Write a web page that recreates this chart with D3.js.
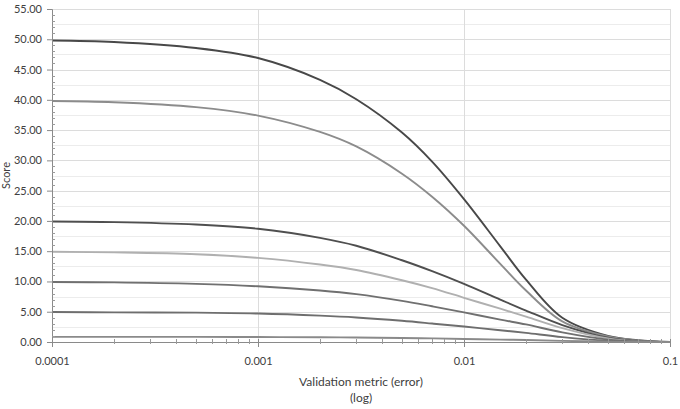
<!DOCTYPE html>
<html>
<head>
<meta charset="utf-8">
<script src="https://cdnjs.cloudflare.com/ajax/libs/d3/7.8.5/d3.min.js"></script>
<style>
    body { margin: 0; background: #fff; }
    text { font-family: Lato, "Open Sans", sans-serif; fill: #404040; }
</style>
</head>
<body>
<div id="chart"></div>
<script>
// x positions (validation metric, log scale)
var metric = [0.0001, 0.0002, 0.0005, 0.001, 0.002, 0.003, 0.005, 0.007, 0.01, 0.015, 0.02, 0.03, 0.05, 0.07, 0.1];

// score curves (top to bottom)
var score50 = [49.8, 49.55, 48.55, 46.9, 43.3, 40.1, 34.6, 29.8, 23.6, 15.8, 10.3, 4.0, 1.0, 0.3, 0];
var score40 = [39.8, 39.6, 38.8, 37.4, 34.7, 32.3, 27.8, 24.0, 19.2, 12.9, 8.5, 3.4, 0.9, 0.25, 0];
var score20 = [19.9, 19.8, 19.4, 18.7, 17.2, 15.9, 13.5, 11.7, 9.6, 7.0, 5.2, 2.8, 0.7, 0.15, 0];
var score15 = [14.9, 14.8, 14.5, 13.9, 12.8, 11.9, 10.2, 8.9, 7.3, 5.5, 4.2, 2.3, 0.6, 0.1, 0];
var score10 = [9.9, 9.85, 9.6, 9.2, 8.5, 7.9, 6.8, 5.9, 4.9, 3.7, 2.9, 1.6, 0.4, 0.08, 0];
var score5  = [4.95, 4.9, 4.85, 4.7, 4.35, 4.05, 3.5, 3.05, 2.55, 1.95, 1.5, 0.8, 0.2, 0.05, 0];
var score1  = [0.85, 0.85, 0.84, 0.82, 0.78, 0.74, 0.66, 0.6, 0.5, 0.4, 0.32, 0.18, 0.05, 0.01, 0];

var series = [score50, score40, score20, score15, score10, score5, score1];
var seriesColours = ["#484848", "#8c8c8c", "#4f4f4f", "#b0b0b0", "#707070", "#6e6e6e", "#8a8a8a"];

// axis ticks
var xTicks = [0.0001, 0.001, 0.01, 0.1];
var xTickLabels = ["0.0001", "0.001", "0.01", "0.1"];
var yTicks = [0, 5, 10, 15, 20, 25, 30, 35, 40, 45, 50, 55];

var width = 680, height = 409;
var margin = {top: 9, right: 10, bottom: 67, left: 52};
var inner_width = width - margin.left - margin.right;
var inner_height = height - margin.top - margin.bottom;

var svg = d3.select("#chart").append("svg")
    .attr("width", width)
    .attr("height", height);

var g = svg.append("g")
    .attr("transform", "translate(" + margin.left + "," + margin.top + ")");

var x_scale = d3.scaleLog()
    .domain([0.0001, 0.1])
    .range([0, inner_width]);

var y_scale = d3.scaleLinear()
    .domain([0, 55])
    .range([inner_height, 0]);

//Minor horizontal gridlines (every 2.5)
var minorY = d3.range(2.5, 55, 5);
g.append("g").selectAll("line").data(minorY).enter().append("line")
    .attr("x1", 0).attr("x2", inner_width)
    .attr("y1", function(d) {return Math.round(y_scale(d)) + 0.5;})
    .attr("y2", function(d) {return Math.round(y_scale(d)) + 0.5;})
    .attr("stroke", "#ececec");

//Major horizontal gridlines
g.append("g").selectAll("line").data(yTicks.slice(1)).enter().append("line")
    .attr("x1", 0).attr("x2", inner_width)
    .attr("y1", function(d) {return Math.round(y_scale(d)) + 0.5;})
    .attr("y2", function(d) {return Math.round(y_scale(d)) + 0.5;})
    .attr("stroke", "#dcdcdc");

//Vertical gridlines at decades
g.append("g").selectAll("line").data(xTicks.slice(1)).enter().append("line")
    .attr("x1", function(d) {return Math.round(x_scale(d)) + 0.5;})
    .attr("x2", function(d) {return Math.round(x_scale(d)) + 0.5;})
    .attr("y1", 0).attr("y2", inner_height)
    .attr("stroke", "#dcdcdc");

//Curves
var line = d3.line()
    .x(function(d) {return x_scale(d[0]);})
    .y(function(d) {return y_scale(d[1]);})
    .curve(d3.curveCatmullRom.alpha(0.5));

series.forEach(function(s, i) {
    g.append("path")
        .attr("d", line(d3.zip(metric, s)))
        .attr("fill", "none")
        .attr("stroke", seriesColours[i])
        .attr("stroke-width", 1.9);
});

//Y axis
var y_axis = d3.axisLeft(y_scale)
    .tickValues(yTicks)
    .tickSize(5)
    .tickPadding(5)
    .tickFormat(d3.format(".2f"));

var yg = g.append("g").call(y_axis);
yg.select(".domain").attr("stroke", "#8a8a8a");
yg.selectAll(".tick line").attr("stroke", "#8a8a8a");
yg.selectAll("text").style("font-size", "11px").attr("fill", "#404040");

// y minor ticks every 1
var minorYTicks = d3.range(1, 55).filter(function(d) {return d % 5 !== 0;});
yg.selectAll(".minor").data(minorYTicks).enter().append("line")
    .attr("class", "minor")
    .attr("x1", 0).attr("x2", 3)
    .attr("y1", function(d) {return Math.round(y_scale(d)) + 0.5;})
    .attr("y2", function(d) {return Math.round(y_scale(d)) + 0.5;})
    .attr("stroke", "#9a9a9a");

//X axis
var x_axis = d3.axisBottom(x_scale)
    .tickValues(xTicks)
    .tickSize(5)
    .tickPadding(10)
    .tickFormat(function(d, i) {return xTickLabels[i];});

var xg = g.append("g")
    .attr("transform", "translate(0," + inner_height + ")")
    .call(x_axis);
xg.select(".domain").attr("stroke", "#8a8a8a");
xg.selectAll(".tick line").attr("stroke", "#8a8a8a").attr("y1", -3);
xg.selectAll("text").style("font-size", "11px").attr("fill", "#404040");

// x minor ticks 2..9 within each decade
var minorXTicks = [];
[0.0001, 0.001, 0.01].forEach(function(base) {
    for (var k = 2; k <= 9; k++) minorXTicks.push(base * k);
});
xg.selectAll(".minor").data(minorXTicks).enter().append("line")
    .attr("class", "minor")
    .attr("x1", function(d) {return Math.round(x_scale(d)) + 0.5;})
    .attr("x2", function(d) {return Math.round(x_scale(d)) + 0.5;})
    .attr("y1", -3).attr("y2", 2)
    .attr("stroke", "#9a9a9a");

//Axis titles
svg.append("text")
    .attr("transform", "translate(" + (margin.left + inner_width/2) + ",386)")
    .style("text-anchor", "middle")
    .style("font-size", "12px")
    .text("Validation metric (error)");

svg.append("text")
    .attr("transform", "translate(" + (margin.left + inner_width/2) + ",402)")
    .style("text-anchor", "middle")
    .style("font-size", "12px")
    .text("(log)");

svg.append("text")
    .attr("transform", "translate(10," + (margin.top + inner_height/2) + ") rotate(-90)")
    .style("text-anchor", "middle")
    .style("font-size", "11px")
    .text("Score");
</script>
</body>
</html>
